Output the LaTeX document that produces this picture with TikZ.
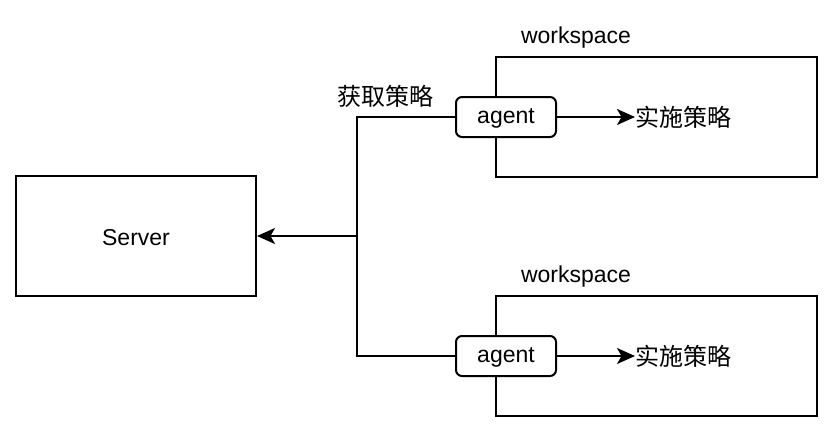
\documentclass[tikz,border=0pt]{standalone}
\usepackage{fontspec}
\setmainfont{Liberation Sans}
\newfontfamily\cjk{Noto Sans CJK SC}
\usetikzlibrary{arrows.meta}
\tikzset{
  box/.style={draw=black, line width=2pt, fill=white, minimum width=#1, inner sep=0pt},
  agentbox/.style={draw=black, line width=2pt, fill=white, rounded corners=6pt, minimum width=100pt, minimum height=40pt, inner sep=0pt},
  lbl/.style={inner sep=0pt, font=\fontsize{23}{27}\selectfont},
  conn/.style={line width=2pt, draw=black},
  arr/.style={conn, -{Stealth[length=18pt,width=16pt,inset=4.5pt]}}
}
\begin{document}
\begin{tikzpicture}[x=1pt,y=-1pt]
\useasboundingbox (0,0) rectangle (834,434);
\node[box=240pt, minimum height=120pt] (server) at (136,236) {};
\node[lbl] (servertext) at (136,237.5) {Server};
\node[box=321pt, minimum height=120pt] (ws1) at (656.5,116.5) {};
\node[box=321pt, minimum height=120pt] (ws2) at (656.5,356) {};
\node[lbl] (wl1) at (576,38) {workspace};
\node[lbl] (wl2) at (576,277) {workspace};
\node[agentbox] (ag1) at (506,117) {};
\node[agentbox] (ag2) at (506,356) {};
\node[lbl] (at1) at (506,118.5) {agent};
\node[lbl] (at2) at (506,357.5) {agent};
\node[lbl, anchor=west, font=\fontsize{24}{28}\selectfont] (impl1) at (635,117.5) {\cjk 实施策略};
\node[lbl, anchor=west, font=\fontsize{24}{28}\selectfont] (impl2) at (635,356.5) {\cjk 实施策略};
\node[lbl, font=\fontsize{24}{28}\selectfont] (get) at (385,96.5) {\cjk 获取策略};
\coordinate (j) at (357,236);
\draw[conn] (ag1.west) -| (j) |- (ag2.west);
\draw[arr] (j) -- (server.east);
\draw[arr] (ag1.east) -- (ag1.east -| impl1.west);
\draw[arr] (ag2.east) -- (ag2.east -| impl2.west);
\end{tikzpicture}
\end{document}
